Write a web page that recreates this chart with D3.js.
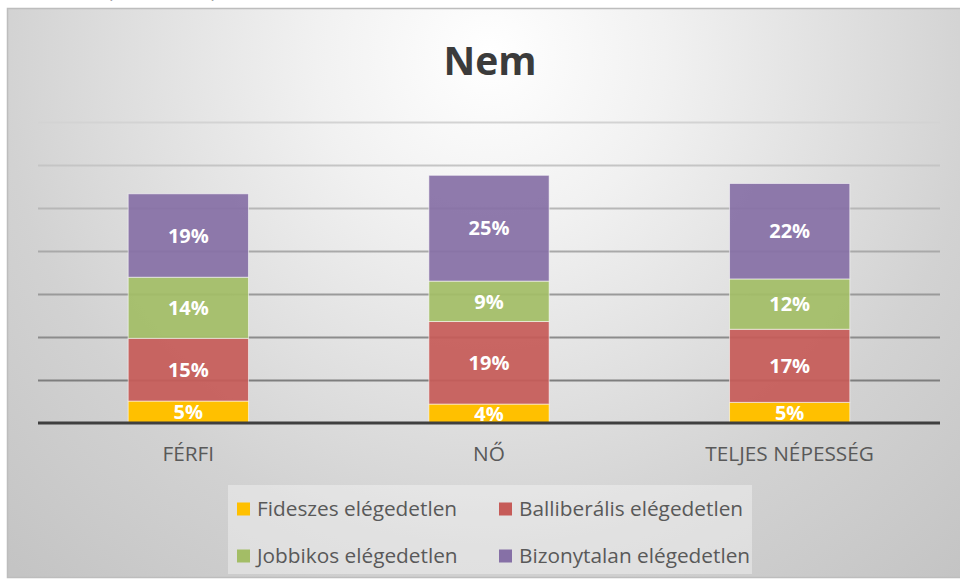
<!DOCTYPE html>
<html>
<head>
<meta charset="utf-8">
<script src="https://cdn.jsdelivr.net/npm/d3@7"></script>
<style>
  html, body { margin: 0; padding: 0; background: #ffffff; }
  svg { display: block; }
</style>
</head>
<body>
<svg id="chart" width="960" height="581"></svg>
<script>
// ---- data ----
const categories = ["FÉRFI", "NŐ", "TELJES NÉPESSÉG"];
const seriesNames = ["Fideszes elégedetlen", "Balliberális elégedetlen", "Jobbikos elégedetlen", "Bizonytalan elégedetlen"];
const fideszes = [5.1, 4.4, 4.8];
const balliberalis = [14.6, 19.2, 17.0];
const jobbikos = [14.2, 9.4, 11.7];
const bizonytalan = [19.4, 24.6, 22.2];
const yTicks = [0, 10, 20, 30, 40, 50, 60, 70];
const title = "Nem";

// ---- styles ----
const colors = ["#FFC000", "#c65b58", "#a3bd66", "#8670a6"];
const opacities = [1, 0.93, 0.93, 0.93];

const svg = d3.select("#chart");
const W = 960, H = 581;

// background
const defs = svg.append("defs");
const rg = defs.append("radialGradient")
  .attr("id", "bg").attr("gradientUnits", "userSpaceOnUse")
  .attr("cx", 490).attr("cy", 55).attr("r", 700);
[[0, "#ffffff"], [0.25, "#f1f1f1"], [0.7, "#d2d2d2"], [1, "#c4c4c4"]]
  .forEach(([o, c]) => rg.append("stop").attr("offset", o).attr("stop-color", c));

svg.append("rect").attr("x", 0).attr("y", 0).attr("width", W).attr("height", H).attr("fill", "#ffffff");
// cut-off caption remnants at the very top
svg.append("text").attr("x", 107).attr("y", -3).attr("font-family", "Open Sans").attr("font-size", 20)
  .attr("fill", "#404040").text("(");
svg.append("text").attr("x", 211).attr("y", -3).attr("font-family", "Open Sans").attr("font-size", 20)
  .attr("fill", "#404040").text(")");

svg.append("rect").attr("x", 7.5).attr("y", 8.5).attr("width", 960).attr("height", 569)
  .attr("fill", "url(#bg)").attr("stroke", "#bdbdbd").attr("stroke-width", 1.5);

// scales
const x = d3.scaleBand().domain(categories).range([38, 940]).paddingInner(0.6).paddingOuter(0.3);
const y = d3.scaleLinear().domain([0, 70]).range([423, 122]);

// gridlines
const gridColor = d3.scaleLinear().domain([70, 10]).range(["#d3d3d3", "#7e7e7e"]).interpolate(d3.interpolateRgb);
const gridAxis = d3.axisLeft(y).tickValues(yTicks.filter(t => t > 0)).tickSize(-(940 - 38)).tickFormat("");
const gg = svg.append("g").attr("transform", "translate(38,0)").call(gridAxis);
gg.select(".domain").remove();
gg.selectAll(".tick line").attr("stroke", d => gridColor(d)).attr("stroke-width", 2);

// stacked data
const rows = categories.map((c, i) => ({
  cat: c,
  [seriesNames[0]]: fideszes[i],
  [seriesNames[1]]: balliberalis[i],
  [seriesNames[2]]: jobbikos[i],
  [seriesNames[3]]: bizonytalan[i]
}));
const stacked = d3.stack().keys(seriesNames)(rows);

const layers = svg.append("g").selectAll("g").data(stacked).join("g")
  .attr("fill", (d, i) => colors[i]).attr("fill-opacity", (d, i) => opacities[i]);
layers.selectAll("rect").data(d => d).join("rect")
  .attr("x", d => x(d.data.cat))
  .attr("width", x.bandwidth())
  .attr("y", d => y(d[1]))
  .attr("height", d => y(d[0]) - y(d[1]))
  .attr("stroke", "#ffffff").attr("stroke-opacity", 0.55).attr("stroke-width", 1);

// baseline axis
const xAxis = d3.axisBottom(x).tickSize(0).tickPadding(0);
const xg = svg.append("g").attr("transform", `translate(0,${y(0)})`).call(xAxis);
xg.select(".domain").remove();
xg.selectAll(".tick text").remove();
svg.append("line").attr("x1", 38).attr("x2", 940).attr("y1", y(0)).attr("y2", y(0))
  .attr("stroke", "#3f3f3f").attr("stroke-width", 3);

// category labels
svg.append("g").selectAll("text").data(categories).join("text")
  .attr("x", d => x(d) + x.bandwidth() / 2)
  .attr("y", 461)
  .attr("text-anchor", "middle")
  .attr("font-family", "Open Sans").attr("font-size", 20.8)
  .attr("fill", "#595959")
  .text(d => d);

// data labels
const lbl = svg.append("g");
stacked.forEach(layer => {
  lbl.selectAll(null).data(layer).join("text")
    .attr("x", d => x(d.data.cat) + x.bandwidth() / 2)
    .attr("y", d => (y(d[0]) + y(d[1])) / 2)
    .attr("dy", "0.36em")
    .attr("text-anchor", "middle")
    .attr("font-family", "Open Sans").attr("font-weight", 700).attr("font-size", 20)
    .attr("fill", "#ffffff")
    .text(d => Math.round(d[1] - d[0]) + "%");
});

// title
svg.append("text").attr("x", 490).attr("y", 75).attr("text-anchor", "middle")
  .attr("font-family", "Open Sans").attr("font-weight", 700).attr("font-size", 39)
  .attr("fill", "#3b3b3b").text(title);

// legend
svg.append("rect").attr("x", 228).attr("y", 485).attr("width", 524).attr("height", 89)
  .attr("fill", "#ffffff").attr("fill-opacity", 0.35);
const legPos = [[237, 502.5], [499, 502.5], [237, 549.5], [499, 549.5]];
const leg = svg.append("g").selectAll("g").data(seriesNames).join("g")
  .attr("transform", (d, i) => `translate(${legPos[i][0]},${legPos[i][1]})`);
leg.append("rect").attr("width", 13).attr("height", 13).attr("fill", (d, i) => colors[i]);
leg.append("text").attr("x", 20).attr("y", 13)
  .attr("font-family", "Open Sans").attr("font-size", 20.8).attr("fill", "#595959")
  .text(d => d);
</script>
</body>
</html>
